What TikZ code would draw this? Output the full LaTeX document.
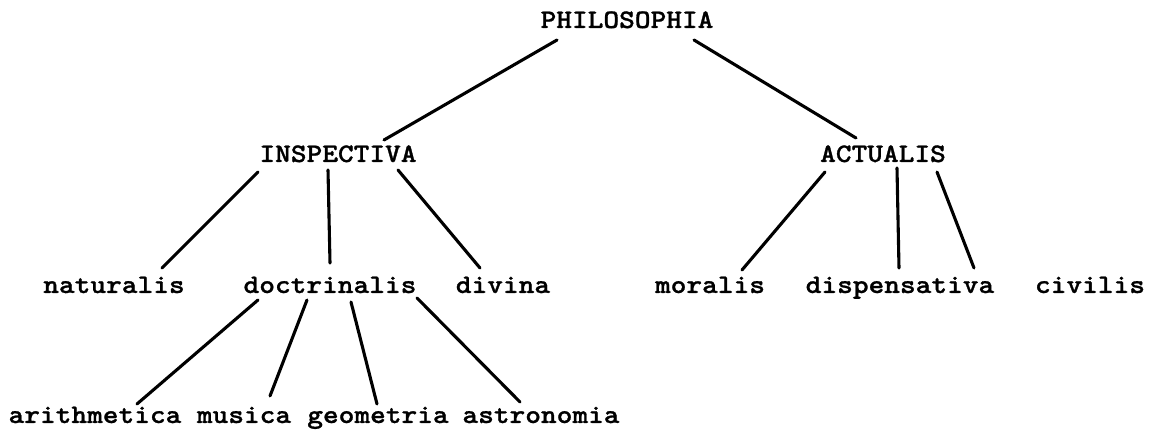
\documentclass[tikz,border=0pt]{standalone}
\usepackage{fontspec}
\usepackage{tikz}
\usetikzlibrary{calc}
\newfontfamily\typefont[FakeStretch=1.12, FakeBold=1]{lmmonolt10-bold.otf}

\begin{document}
\begin{tikzpicture}[x=0.025cm, y=0.025cm, line width=2.2pt, line cap=round, every node/.style={inner sep=0pt, anchor=base, font=\typefont\fontsize{19}{23}\selectfont}]
        % Fix the size of the page
        \useasboundingbox (0,0) rectangle (1157,431);

        % Draw the root and the two main branches
        \node (phil) at (627,403) {PHILOSOPHIA};
        \node (insp) at (338,269) {INSPECTIVA};
        \node (act) at (883,269) {ACTUALIS};

        % Draw the third row
        \node (nat) at (114,138) {naturalis};
        \node (doct) at (330,138) {doctrinalis};
        \node (div) at (503,138) {divina};
        \node (mor) at (710,138) {moralis};
        \node (disp) at (900,138) {dispensativa};
        \node (civ) at (1090,138) {civilis};

        % Draw the bottom row
        \node (arith) at (95,8) {arithmetica};
        \node (mus) at (244,8) {musica};
        \node (geo) at (378,8) {geometria};
        \node (astro) at (541,8) {astronomia};

        % Connect the root to the branches
        \draw ($(phil.base)+(-70,-12)$) -- ($(insp.base)+(46,22)$);
        \draw ($(phil.base)+(67,-12)$) -- ($(act.base)+(-27,24)$);

        % Connect the branches to the third row
        \draw ($(insp.base)+(-80,-10)$) -- ($(nat.base)+(48,25)$);
        \draw ($(insp.base)+(-10,-8)$) -- ($(doct.base)+(0,30)$);
        \draw ($(insp.base)+(60,-8)$) -- ($(div.base)+(-23,25)$);
        \draw ($(act.base)+(-58,-10)$) -- ($(mor.base)+(32,23)$);
        \draw ($(act.base)+(14,-6)$) -- ($(disp.base)+(-1,25)$);
        \draw ($(act.base)+(54,-10)$) -- ($(disp.base)+(74,25)$);

        % Connect doctrinalis to the bottom row
        \draw ($(doct.base)+(-72,-7)$) -- ($(arith.base)+(42,19)$);
        \draw ($(doct.base)+(-23,-7)$) -- ($(mus.base)+(26,27)$);
        \draw ($(doct.base)+(21,-9)$) -- ($(geo.base)+(-1,19)$);
        \draw ($(doct.base)+(87,-5)$) -- ($(astro.base)+(-21,21)$);
      \end{tikzpicture}
\end{document}
